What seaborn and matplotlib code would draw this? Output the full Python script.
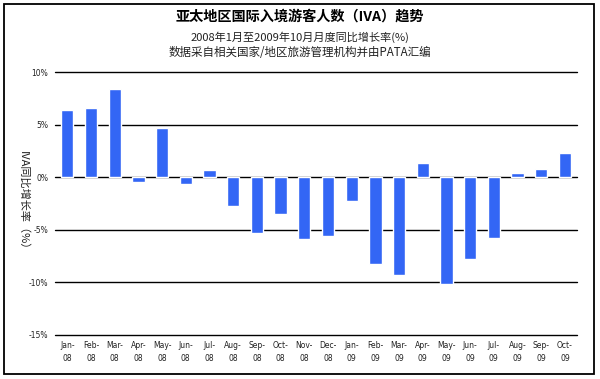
import matplotlib
matplotlib.use("Agg")
import matplotlib.pyplot as plt
import seaborn as sns
import pandas as pd
from matplotlib.patches import Rectangle

months = ["Jan-\n08", "Feb-\n08", "Mar-\n08", "Apr-\n08", "May-\n08", "Jun-\n08",
          "Jul-\n08", "Aug-\n08", "Sep-\n08", "Oct-\n08", "Nov-\n08", "Dec-\n08",
          "Jan-\n09", "Feb-\n09", "Mar-\n09", "Apr-\n09", "May-\n09", "Jun-\n09",
          "Jul-\n09", "Aug-\n09", "Sep-\n09", "Oct-\n09"]
growth = [6.4, 6.6, 8.4, -0.45, 4.7, -0.65, 0.67, -2.7, -5.3, -3.5, -5.9, -5.55,
          -2.25, -8.25, -9.3, 1.33, -10.15, -7.8, -5.8, 0.38, 0.79, 2.28]
yticks = [10, 5, 0, -5, -10, -15]
ytick_labels = ["10%", "5%", "0%", "-5%", "-10%", "-15%"]

title = "亚太地区国际入境游客人数（IVA）趋势"
subtitle1 = "2008年1月至2009年10月月度同比增长率(%)"
subtitle2 = "数据采自相关国家/地区旅游管理机构并由PATA汇编"
ylabel = "IVA同比增长率（%）"

sns.set_theme(style="white")
plt.rcParams['font.family'] = ['Noto Sans CJK SC', 'DejaVu Sans']

df = pd.DataFrame({"month": months, "growth": growth})

fig = plt.figure(figsize=(6.0, 3.79), dpi=100)
ax = fig.add_axes([55/600, 1 - 335/379, (577 - 55)/600, (335 - 72)/379])

sns.barplot(data=df, x="month", y="growth", color="#3366f5", saturation=1,
            width=0.52, ax=ax, zorder=3)

ax.set_ylim(-15, 10)
ax.set_xlim(-0.52, len(months) - 0.49)
ax.set_yticks(yticks)
ax.set_yticklabels(ytick_labels, fontsize=5.5, color="#222222",
                   family=['DejaVu Sans'])
ax.tick_params(axis='y', length=0, pad=5)
ax.tick_params(axis='x', length=0, pad=4)
ax.set_xticks(range(len(months)))
ax.set_xticklabels(months, fontsize=5.5, color="#222222", family=['DejaVu Sans'],
                   linespacing=1.6)
for y in yticks:
    ax.axhline(y, color="black", lw=1.0, zorder=2, clip_on=False)
for s in ax.spines.values():
    s.set_visible(False)
ax.set_xlabel("")
ax.set_ylabel("")

fig.text(23/600, 1 - 203/379, ylabel, rotation=270, ha="center", va="center",
         fontsize=8, color="#222222")

fig.text(0.5, 1 - 17/379, title, ha="center", va="center", fontsize=10.2,
         fontweight="bold", color="black")
fig.text(0.5, 1 - 37/379, subtitle1, ha="center", va="center", fontsize=8,
         color="#222222")
fig.text(0.5, 1 - 53/379, subtitle2, ha="center", va="center", fontsize=8.3,
         color="#222222")

fig.patches.append(Rectangle((4/600, 1 - 374/379), 590/600, 370/379,
                             transform=fig.transFigure, fill=False,
                             edgecolor="black", lw=1.3))

fig.savefig("out.png", dpi=100)
